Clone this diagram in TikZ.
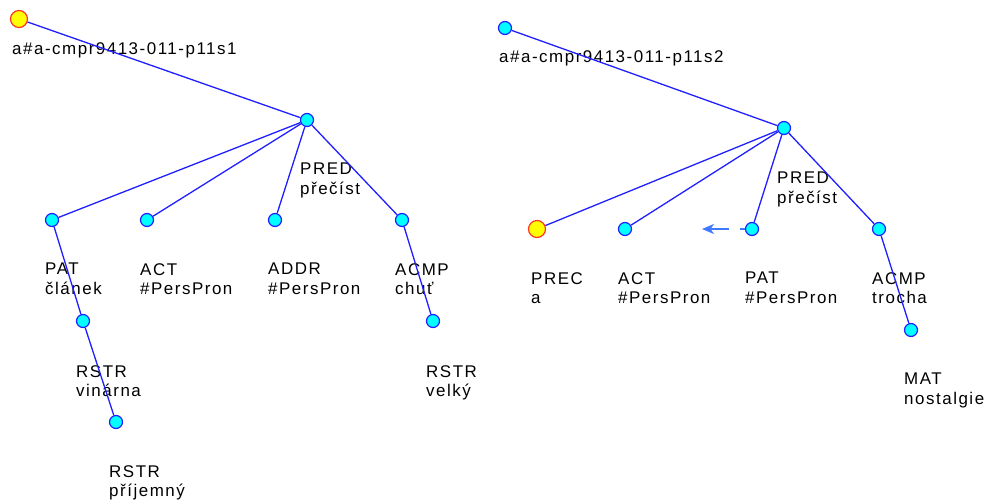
\documentclass[tikz,border=0pt]{standalone}
\usepackage{fontspec}
\setmainfont{Liberation Sans}[LetterSpace=9]
\usetikzlibrary{arrows.meta}
\definecolor{edgecol}{rgb}{0.12,0.12,1.0}
\definecolor{nodefill}{rgb}{0.0,1.0,1.0}
\definecolor{headfill}{rgb}{1.0,1.0,0.0}
\definecolor{corefcol}{rgb}{0.25,0.47,1.0}
\definecolor{rootline}{rgb}{1.0,0.2,0.15}
\begin{document}
\begin{tikzpicture}[>=Stealth,line join=bevel,
  tnode/.style={circle,draw=edgecol,fill=nodefill,line width=1.2bp,minimum size=13bp,inner sep=0pt},
  hnode/.style={circle,draw=rootline,fill=headfill,line width=1.2bp,minimum size=17bp,inner sep=0pt},
  tlabel/.style={anchor=north west,inner sep=0pt,align=left,text=black,
    font=\fontsize{17}{19.5}\selectfont},
  tedge/.style={draw=edgecol,line width=1.3bp},
  coref/.style={draw=corefcol,line width=2bp,dash pattern=on 5bp off 11bp on 60bp,
    -{Stealth[length=12bp,width=10bp,inset=3.5bp]}}]
%%
\useasboundingbox (0bp,0bp) rectangle (989bp,-504bp);
%% first tree
\node (root1) at (19bp,-19bp) [hnode] {};
\node (pred1) at (307bp,-120bp) [tnode] {};
\node (pat1) at (52bp,-220bp) [tnode] {};
\node (act1) at (147bp,-220bp) [tnode] {};
\node (addr1) at (275bp,-220bp) [tnode] {};
\node (acmp1) at (402bp,-220bp) [tnode] {};
\node (rstr1) at (83bp,-321bp) [tnode] {};
\node (rstr2) at (116bp,-422bp) [tnode] {};
\node (rstr3) at (433bp,-321bp) [tnode] {};
\node (root1l) at (12bp,-42bp) [tlabel] {a\#a-cmpr9413-011-p11s1};
\node (pred1l) at (300bp,-163bp) [tlabel] {PRED\\přečíst};
\node (pat1l) at (45bp,-263bp) [tlabel] {PAT\\článek};
\node (act1l) at (140bp,-263bp) [tlabel] {ACT\\\#PersPron};
\node (addr1l) at (268bp,-263bp) [tlabel] {ADDR\\\#PersPron};
\node (acmp1l) at (395bp,-263bp) [tlabel] {ACMP\\chuť};
\node (rstr1l) at (76bp,-365bp) [tlabel] {RSTR\\vinárna};
\node (rstr2l) at (109bp,-465bp) [tlabel] {RSTR\\příjemný};
\node (rstr3l) at (426bp,-365bp) [tlabel] {RSTR\\velký};
\draw [tedge] (root1) -- (pred1);
\draw [tedge] (pred1) -- (pat1);
\draw [tedge] (pred1) -- (act1);
\draw [tedge] (pred1) -- (addr1);
\draw [tedge] (pred1) -- (acmp1);
\draw [tedge] (pat1) -- (rstr1);
\draw [tedge] (rstr1) -- (rstr2);
\draw [tedge] (acmp1) -- (rstr3);
%% second tree
\node (root2) at (505bp,-28bp) [tnode] {};
\node (pred2) at (784bp,-128bp) [tnode] {};
\node (prec) at (537bp,-229bp) [hnode] {};
\node (act2) at (625bp,-229bp) [tnode] {};
\node (pat2) at (752bp,-229bp) [tnode] {};
\node (acmp2) at (879bp,-229bp) [tnode] {};
\node (mat) at (911bp,-330bp) [tnode] {};
\coordinate (corefend) at (702bp,-229bp);
\node (root2l) at (499bp,-50bp) [tlabel] {a\#a-cmpr9413-011-p11s2};
\node (pred2l) at (777bp,-172bp) [tlabel] {PRED\\přečíst};
\node (precl) at (531bp,-272bp) [tlabel] {PREC\\a};
\node (act2l) at (618bp,-272bp) [tlabel] {ACT\\\#PersPron};
\node (pat2l) at (745bp,-272bp) [tlabel] {PAT\\\#PersPron};
\node (acmp2l) at (872bp,-272bp) [tlabel] {ACMP\\trocha};
\node (matl) at (904bp,-373bp) [tlabel] {MAT\\nostalgie};
\draw [tedge] (root2) -- (pred2);
\draw [tedge] (pred2) -- (prec);
\draw [tedge] (pred2) -- (act2);
\draw [tedge] (pred2) -- (pat2);
\draw [tedge] (pred2) -- (acmp2);
\draw [tedge] (acmp2) -- (mat);
\draw [coref] (pat2) -- (corefend);
%
\end{tikzpicture}
\end{document}
